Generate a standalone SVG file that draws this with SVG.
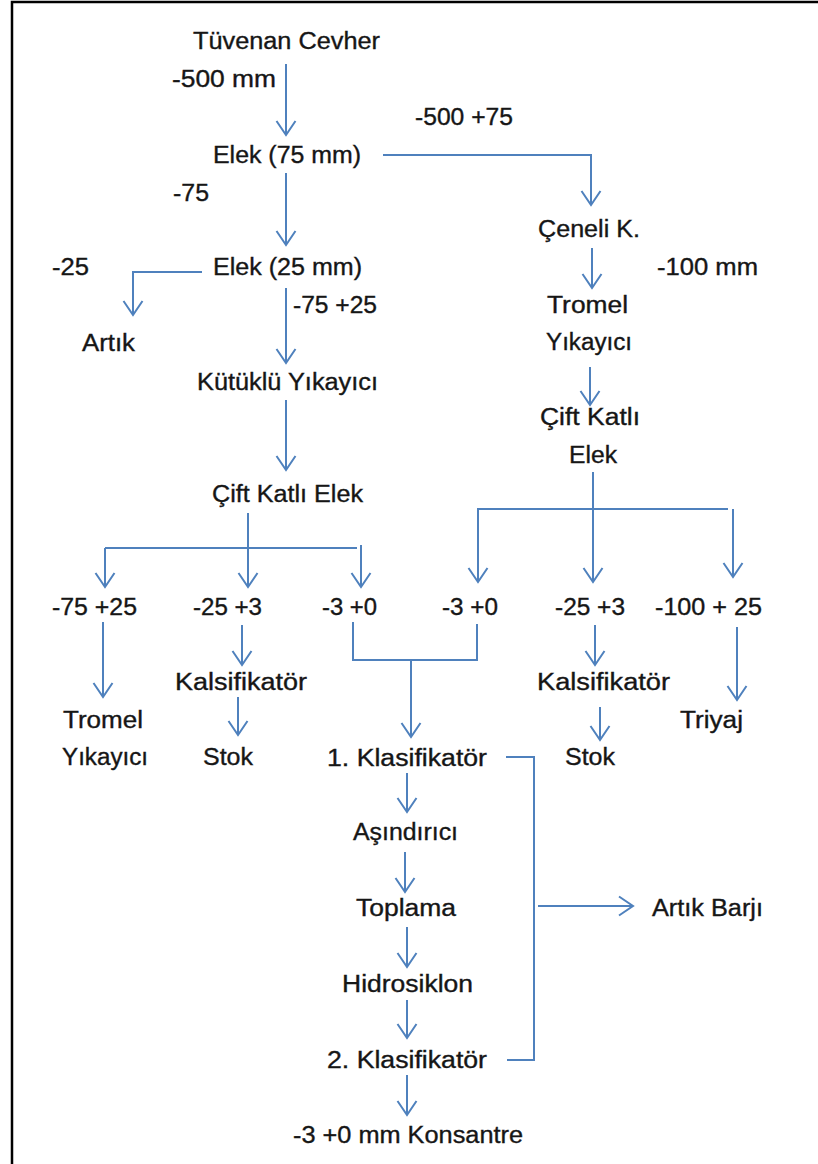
<svg xmlns="http://www.w3.org/2000/svg" width="818" height="1164" viewBox="0 0 818 1164">
  <style>
    .t { font-family: "Liberation Sans", Arial, sans-serif; font-size: 23px; fill: #161616; stroke: #161616; stroke-width: 0.35px; }
    .c { fill: none; stroke: #4f81bd; stroke-width: 2; }
    .a { marker-end: url(#ah); }
    .frame { fill: none; stroke: #000; stroke-width: 2.5; }
  </style>
  <defs>
    <marker id="ah" markerUnits="userSpaceOnUse" markerWidth="30" markerHeight="30" refX="15" refY="15" viewBox="0 0 30 30" orient="auto">
      <path d="M1,5.5 L15,15 L1,24.5" fill="none" stroke="#4f81bd" stroke-width="2"/>
    </marker>
  </defs>

  <rect width="818" height="1164" fill="#fff"/>
  <path class="frame" d="M12,1164 V2 H818"/>

  <!-- connectors -->
  <g id="connectors">
    <!-- main line, left column -->
    <path class="c a" d="M286,64 V135"/>
    <path class="c a" d="M383,155 H591 V205"/>
    <path class="c a" d="M286,173 V245"/>
    <path class="c a" d="M202,272 H133 V315"/>
    <path class="c a" d="M286,288 V363"/>
    <path class="c a" d="M286,400 V470"/>
    <!-- left double screen split -->
    <path class="c a" d="M248,513 V587"/>
    <path class="c" d="M105,548 H357"/>
    <path class="c a" d="M105,548 V587"/>
    <path class="c a" d="M361,545 V587"/>
    <path class="c a" d="M103,622 V697"/>
    <path class="c a" d="M242,625 V665"/>
    <path class="c a" d="M238,697 V735"/>
    <!-- -3 +0 fractions joined to classifier -->
    <path class="c" d="M353,622 V660 H477 V624"/>
    <path class="c a" d="M411,660 V737"/>
    <!-- right column -->
    <path class="c a" d="M592,248 V288"/>
    <path class="c a" d="M590,367 V405"/>
    <path class="c a" d="M593,472 V582"/>
    <path class="c" d="M477,509 H728"/>
    <path class="c a" d="M478,509 V582"/>
    <path class="c a" d="M733,509 V577"/>
    <path class="c a" d="M595,625 V665"/>
    <path class="c a" d="M737,627 V700"/>
    <path class="c a" d="M600,707 V740"/>
    <!-- classification chain -->
    <path class="c a" d="M407,773 V812"/>
    <path class="c a" d="M405,852 V892"/>
    <path class="c a" d="M407,927 V967"/>
    <path class="c a" d="M407,1000 V1038"/>
    <path class="c a" d="M407,1075 V1115"/>
    <!-- overflow to tailings dam -->
    <path class="c" d="M506,757 H534 V1060 H507"/>
    <path class="c a" d="M538,906 H633"/>
  </g>

  <!-- nodes -->
  <g id="n-tuvenan"><text class="t" x="193" y="49" textLength="187" lengthAdjust="spacingAndGlyphs">Tüvenan Cevher</text></g>
  <g id="l-500"><text class="t" x="172" y="87" textLength="104" lengthAdjust="spacingAndGlyphs">-500 mm</text></g>
  <g id="l-500-75"><text class="t" x="415" y="125" textLength="98" lengthAdjust="spacingAndGlyphs">-500 +75</text></g>
  <g id="n-elek75"><text class="t" x="213" y="163" textLength="148" lengthAdjust="spacingAndGlyphs">Elek (75 mm)</text></g>
  <g id="l-75"><text class="t" x="173" y="201" textLength="36" lengthAdjust="spacingAndGlyphs">-75</text></g>
  <g id="n-elek25"><text class="t" x="213" y="275" textLength="149" lengthAdjust="spacingAndGlyphs">Elek (25 mm)</text></g>
  <g id="l-25"><text class="t" x="52" y="275" textLength="37" lengthAdjust="spacingAndGlyphs">-25</text></g>
  <g id="l-75-25"><text class="t" x="293" y="313" textLength="84" lengthAdjust="spacingAndGlyphs">-75 +25</text></g>
  <g id="n-artik"><text class="t" x="82" y="351" textLength="53" lengthAdjust="spacingAndGlyphs">Artık</text></g>
  <g id="n-kutuklu"><text class="t" x="197" y="390" textLength="181" lengthAdjust="spacingAndGlyphs">Kütüklü Yıkayıcı</text></g>
  <g id="n-cift-left"><text class="t" x="212" y="502" textLength="151" lengthAdjust="spacingAndGlyphs">Çift Katlı Elek</text></g>

  <g id="n-f1"><text class="t" x="52" y="615" textLength="85" lengthAdjust="spacingAndGlyphs">-75 +25</text></g>
  <g id="n-f2"><text class="t" x="193" y="615" textLength="69" lengthAdjust="spacingAndGlyphs">-25 +3</text></g>
  <g id="n-f3"><text class="t" x="322" y="615" textLength="55" lengthAdjust="spacingAndGlyphs">-3 +0</text></g>
  <g id="n-f4"><text class="t" x="442" y="615" textLength="56" lengthAdjust="spacingAndGlyphs">-3 +0</text></g>
  <g id="n-f5"><text class="t" x="555" y="615" textLength="70" lengthAdjust="spacingAndGlyphs">-25 +3</text></g>
  <g id="n-f6"><text class="t" x="655" y="615" textLength="107" lengthAdjust="spacingAndGlyphs">-100 + 25</text></g>

  <g id="n-kals-left"><text class="t" x="175" y="690" textLength="132" lengthAdjust="spacingAndGlyphs">Kalsifikatör</text></g>
  <g id="n-tromel-left">
    <text class="t" x="63" y="728" textLength="80" lengthAdjust="spacingAndGlyphs">Tromel</text>
    <text class="t" x="62" y="765" textLength="86" lengthAdjust="spacingAndGlyphs">Yıkayıcı</text>
  </g>
  <g id="n-stok-left"><text class="t" x="203" y="765" textLength="50" lengthAdjust="spacingAndGlyphs">Stok</text></g>
  <g id="n-klas1"><text class="t" x="327" y="766" textLength="160" lengthAdjust="spacingAndGlyphs">1. Klasifikatör</text></g>

  <g id="n-ceneli"><text class="t" x="538" y="237" textLength="102" lengthAdjust="spacingAndGlyphs">Çeneli K.</text></g>
  <g id="l-100"><text class="t" x="657" y="275" textLength="101" lengthAdjust="spacingAndGlyphs">-100 mm</text></g>
  <g id="n-tromel-right">
    <text class="t" x="547" y="313" textLength="81" lengthAdjust="spacingAndGlyphs">Tromel</text>
    <text class="t" x="546" y="350" textLength="86" lengthAdjust="spacingAndGlyphs">Yıkayıcı</text>
  </g>
  <g id="n-cift-right">
    <text class="t" x="540" y="425" textLength="100" lengthAdjust="spacingAndGlyphs">Çift Katlı</text>
    <text class="t" x="569" y="463" textLength="48" lengthAdjust="spacingAndGlyphs">Elek</text>
  </g>
  <g id="n-kals-right"><text class="t" x="537" y="690" textLength="133" lengthAdjust="spacingAndGlyphs">Kalsifikatör</text></g>
  <g id="n-triyaj"><text class="t" x="680" y="728" textLength="63" lengthAdjust="spacingAndGlyphs">Triyaj</text></g>
  <g id="n-stok-right"><text class="t" x="565" y="765" textLength="50" lengthAdjust="spacingAndGlyphs">Stok</text></g>

  <g id="n-asindirici"><text class="t" x="353" y="840" textLength="105" lengthAdjust="spacingAndGlyphs">Aşındırıcı</text></g>
  <g id="n-toplama"><text class="t" x="356" y="916" textLength="100" lengthAdjust="spacingAndGlyphs">Toplama</text></g>
  <g id="n-hidrosiklon"><text class="t" x="342" y="992" textLength="131" lengthAdjust="spacingAndGlyphs">Hidrosiklon</text></g>
  <g id="n-klas2"><text class="t" x="327" y="1068" textLength="160" lengthAdjust="spacingAndGlyphs">2. Klasifikatör</text></g>
  <g id="n-konsantre"><text class="t" x="293" y="1143" textLength="230" lengthAdjust="spacingAndGlyphs">-3 +0 mm Konsantre</text></g>
  <g id="n-artik-barji"><text class="t" x="652" y="916" textLength="111" lengthAdjust="spacingAndGlyphs">Artık Barjı</text></g>
</svg>
